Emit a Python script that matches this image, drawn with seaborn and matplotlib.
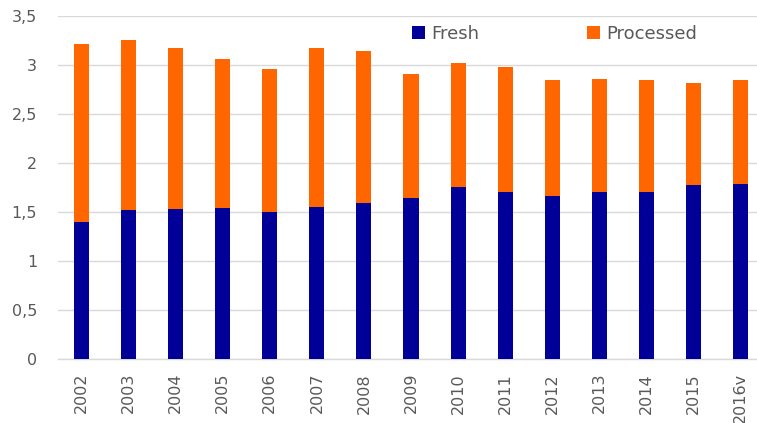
import numpy as np
import pandas as pd
import seaborn as sns
import matplotlib.pyplot as plt
from matplotlib.ticker import FuncFormatter, MultipleLocator

years = ["2002", "2003", "2004", "2005", "2006", "2007", "2008", "2009",
         "2010", "2011", "2012", "2013", "2014", "2015", "2016v"]
fresh = [1.40, 1.52, 1.53, 1.54, 1.50, 1.55, 1.59, 1.64,
         1.75, 1.70, 1.66, 1.70, 1.70, 1.78, 1.79]
processed = [1.81, 1.73, 1.64, 1.52, 1.46, 1.62, 1.55, 1.27,
             1.27, 1.28, 1.19, 1.16, 1.15, 1.04, 1.06]

df = pd.DataFrame({"year": years, "Fresh": fresh, "Processed": processed})
df["Total"] = df["Fresh"] + df["Processed"]

sns.set_theme(style="white")
plt.rcParams["font.family"] = ["DejaVu Sans"]

TXT = "#595959"
GRID = "#D9D9D9"

fig = plt.figure(figsize=(7.57, 4.23), dpi=100)
ax = fig.add_axes([58 / 757, 1 - 359 / 423, 1 - 58 / 757, (359 - 16) / 423])

sns.barplot(data=df, x="year", y="Total", color="#FF6600", width=0.32,
            linewidth=0, saturation=1, ax=ax, label="Processed", zorder=3)
sns.barplot(data=df, x="year", y="Fresh", color="#000099", width=0.32,
            linewidth=0, saturation=1, ax=ax, label="Fresh", zorder=4)

ax.set_ylim(0, 3.5)
ax.set_xlim(-0.5, 14.35)
ax.yaxis.set_major_locator(MultipleLocator(0.5))
ax.yaxis.set_major_formatter(FuncFormatter(lambda v, p: f"{v:g}".replace(".", ",")))
ax.grid(axis="y", color=GRID, linewidth=1, zorder=0)
ax.set_axisbelow(True)
for s in ["top", "right", "left"]:
    ax.spines[s].set_visible(False)
ax.spines["bottom"].set_color(GRID)
ax.spines["bottom"].set_linewidth(1)
ax.set_xlabel("")
ax.set_ylabel("")
ax.tick_params(axis="y", length=0, pad=15, labelsize=11.5, labelcolor=TXT)
ax.tick_params(axis="x", length=0, pad=10, labelsize=11.5, labelcolor=TXT,
               labelrotation=90)

handles, labels = ax.get_legend_handles_labels()
order = [labels.index("Fresh"), labels.index("Processed")]
leg = ax.legend([handles[i] for i in order], [labels[i] for i in order],
                loc="upper left", bbox_to_anchor=(412 / 757, 1 - 25 / 423),
                bbox_transform=fig.transFigure, ncol=2, frameon=False,
                fontsize=13, handlelength=0.7, handleheight=0.7,
                handletextpad=0.35, columnspacing=6.0, borderpad=0,
                borderaxespad=0)
for t in leg.get_texts():
    t.set_color(TXT)

fig.savefig("out.png", dpi=100)
